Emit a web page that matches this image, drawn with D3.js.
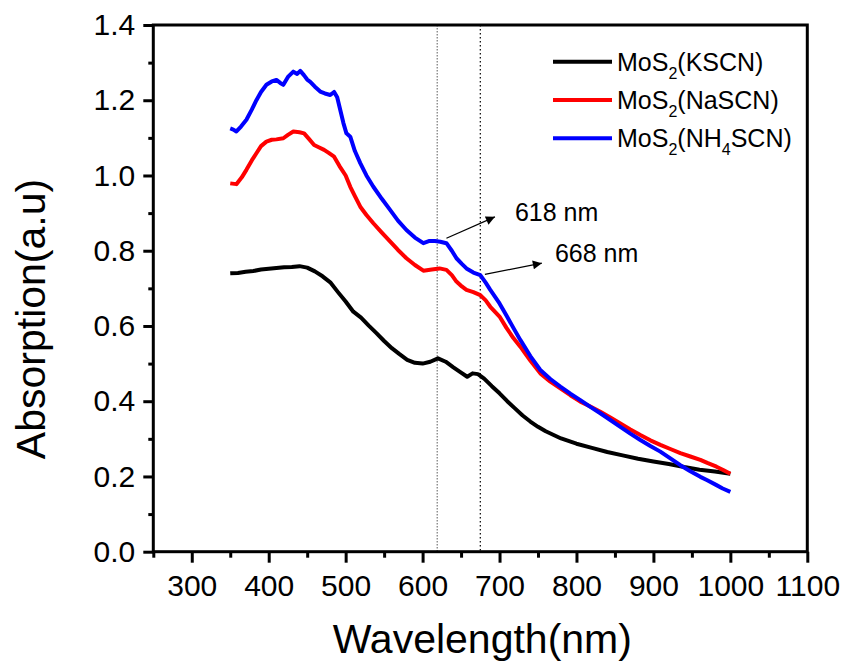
<!DOCTYPE html>
<html><head><meta charset="utf-8">
<script src="https://cdn.jsdelivr.net/npm/d3@7"></script>
<style>
html,body{margin:0;padding:0;background:#fff;}
text{font-family:"Liberation Sans",Arial,sans-serif;}
</style></head>
<body><svg id="chart" width="846" height="666"></svg>
<script>
// ---------- data ----------
const kscnW = [350,360,370,380,390,400,410,420,430,440,450,460,470,480,490,500,510,520,530,540,550,560,570,580,590,600,610,620,630,640,650,658,665,672,680,690,700,710,720,730,740,750,760,780,800,820,840,860,880,900,920,940,960,980,1000];
const kscnA = [.740,.741,.744,.746,.750,.752,.754,.756,.757,.759,.755,.745,.732,.716,.690,.665,.638,.622,.601,.581,.560,.541,.525,.510,.502,.500,.505,.514,.505,.490,.476,.465,.474,.472,.460,.440,.421,.400,.381,.362,.346,.332,.320,.301,.287,.276,.265,.256,.247,.240,.233,.225,.218,.213,.207];

const naW = [350,358,365,371,378,384,390,397,404,410,419,425,432,440,446,452,459,465,472,478,485,492,500,506,512,519,527,536,547,558,568,579,590,601,612,622,631,638,644,651,657,666,675,682,688,700,709,718,727,740,753,766,779,792,805,818,831,844,857,870,883,896,909,922,935,948,961,970,982,990,1000];
const naA = [.979,.977,.995,1.015,1.040,1.059,1.078,1.090,1.095,1.096,1.099,1.108,1.117,1.115,1.112,1.098,1.081,1.075,1.068,1.060,1.050,1.025,1.000,.970,.945,.917,.895,.873,.848,.824,.802,.780,.762,.747,.750,.753,.749,.735,.718,.705,.696,.690,.682,.668,.651,.625,.595,.568,.545,.508,.474,.452,.434,.416,.399,.386,.372,.357,.341,.325,.310,.296,.284,.273,.262,.253,.244,.236,.226,.218,.207];

const nh4W = [350,354,358,364,371,378,384,390,397,404,410,415,419,425,432,437,441,446,450,454,460,467,473,480,485,489,493,497,501,506,512,519,527,536,547,558,568,579,590,601,609,616,623,631,638,644,651,657,666,675,682,688,700,709,718,727,740,753,766,779,792,805,818,831,844,857,870,883,896,909,922,935,948,961,970,982,990,1000];
const nh4A = [1.125,1.122,1.117,1.130,1.148,1.175,1.200,1.222,1.241,1.250,1.254,1.246,1.241,1.262,1.276,1.270,1.278,1.266,1.255,1.249,1.236,1.223,1.218,1.214,1.222,1.208,1.174,1.140,1.112,1.103,1.065,1.033,1.000,.970,.938,.908,.880,.855,.835,.820,.826,.826,.824,.820,.800,.780,.765,.753,.742,.735,.715,.696,.660,.628,.595,.563,.520,.483,.459,.439,.420,.403,.385,.368,.350,.332,.314,.297,.281,.266,.248,.230,.214,.199,.190,.177,.168,.159];

const seriesNames = ["KSCN","NaSCN","NH4SCN"];
const seriesColors = ["#000000","#ff0000","#0000ff"];

const xMajor = [300,400,500,600,700,800,900,1000,1100];
const xMinor = [250,350,450,550,650,750,850,950,1050];
const yMajor = [0,0.2,0.4,0.6,0.8,1.0,1.2,1.4];
const yMinor = [0.1,0.3,0.5,0.7,0.9,1.1,1.3];

const markerW = [619,675];                 // dotted guide lines
const annoLabels = ["618 nm","668 nm"];
const annoFrom = [[631,0.833],[681,0.737]];
const annoTo   = [[694,0.890],[755,0.767]];
const annoText = [[720,0.880],[772,0.771]];

// ---------- layout ----------
const svg = d3.select("#chart");
const L = 153.3, R = 807.3, T = 25, B = 551.7;
const x = d3.scaleLinear().domain([250,1100]).range([L,R]);
const y = d3.scaleLinear().domain([0,1.4]).range([B,T]);

svg.append("defs").append("marker")
  .attr("id","arr").attr("viewBox","0 0 10 10").attr("refX",10).attr("refY",5)
  .attr("markerWidth",14).attr("markerHeight",9).attr("markerUnits","userSpaceOnUse")
  .attr("orient","auto")
  .append("path").attr("d","M0,0 L10,5 L0,10 z").attr("fill","#000");

// dotted guide lines
markerW.forEach((w,i)=>{
  svg.append("line").attr("x1",x(w)).attr("x2",x(w)).attr("y1",y(1.4)).attr("y2",y(0))
    .attr("stroke", i===0 ? "#777" : "#000").attr("stroke-width",1.2)
    .attr("stroke-dasharray", i===0 ? "1.5,1.5" : "1.5,2.5");
});

// curves
const line = d3.line().x(d=>x(d[0])).y(d=>y(d[1])).curve(d3.curveLinear);
const allSeries = [
  kscnW.map((w,i)=>[w,kscnA[i]]),
  naW.map((w,i)=>[w,naA[i]]),
  nh4W.map((w,i)=>[w,nh4A[i]])
];
allSeries.forEach((s,i)=>{
  svg.append("path").datum(s).attr("d",line).attr("fill","none")
    .attr("stroke",seriesColors[i]).attr("stroke-width",4).attr("stroke-linejoin","round");
});

// axes
const fontTick = 30;
const gx = svg.append("g").attr("transform",`translate(0,${B})`)
  .call(d3.axisBottom(x).tickValues(xMajor).tickSize(11).tickPadding(12).tickFormat(d3.format("d")));
const gxm = svg.append("g").attr("transform",`translate(0,${B})`)
  .call(d3.axisBottom(x).tickValues(xMinor).tickSize(6).tickFormat(""));
const gy = svg.append("g").attr("transform",`translate(${L},0)`)
  .call(d3.axisLeft(y).tickValues(yMajor).tickSize(10).tickPadding(8).tickFormat(d3.format(".1f")));
const gym = svg.append("g").attr("transform",`translate(${L},0)`)
  .call(d3.axisLeft(y).tickValues(yMinor).tickSize(5).tickFormat(""));
[gx,gxm,gy,gym].forEach(g=>{
  g.select(".domain").remove();
  g.selectAll(".tick line").attr("stroke","#000").attr("stroke-width",3);
  g.selectAll(".tick text").attr("font-size",fontTick).attr("fill","#000")
   .attr("font-family","'Liberation Sans',Arial,sans-serif");
});
// frame
svg.append("rect").attr("x",L).attr("y",T).attr("width",R-L).attr("height",B-T)
  .attr("fill","none").attr("stroke","#000").attr("stroke-width",3);

// axis titles
svg.append("text").attr("x",(L+R)/2+2).attr("y",653).attr("text-anchor","middle")
  .attr("font-size",41).text("Wavelength(nm)");
svg.append("text").attr("transform","translate(45,319) rotate(-90)").attr("text-anchor","middle")
  .attr("font-size",41).text("Absorption(a.u)");

// legend
const legY = [61.7,100,138.3];
const legParts = [
  [["MoS",0],["2",1],["(KSCN)",0]],
  [["MoS",0],["2",1],["(NaSCN)",0]],
  [["MoS",0],["2",1],["(NH",0],["4",1],["SCN)",0]]
];
legY.forEach((ly,i)=>{
  svg.append("line").attr("x1",553).attr("x2",612).attr("y1",ly).attr("y2",ly)
    .attr("stroke",seriesColors[i]).attr("stroke-width",4);
  const t = svg.append("text").attr("x",617).attr("y",ly+9).attr("font-size",25);
  let sub = false;
  legParts[i].forEach(p=>{
    const ts = t.append("tspan").text(p[0]);
    if(p[1]){ ts.attr("font-size",16).attr("dy",8); sub = true; }
    else if(sub){ ts.attr("dy",-8); sub = false; }
  });
});

// annotations
annoLabels.forEach((lab,i)=>{
  svg.append("line").attr("x1",x(annoFrom[i][0])).attr("y1",y(annoFrom[i][1]))
    .attr("x2",x(annoTo[i][0])).attr("y2",y(annoTo[i][1]))
    .attr("stroke","#000").attr("stroke-width",1.2).attr("marker-end","url(#arr)");
  svg.append("text").attr("x",x(annoText[i][0])).attr("y",y(annoText[i][1]))
    .attr("font-size",25).text(lab);
});
</script></body></html>
